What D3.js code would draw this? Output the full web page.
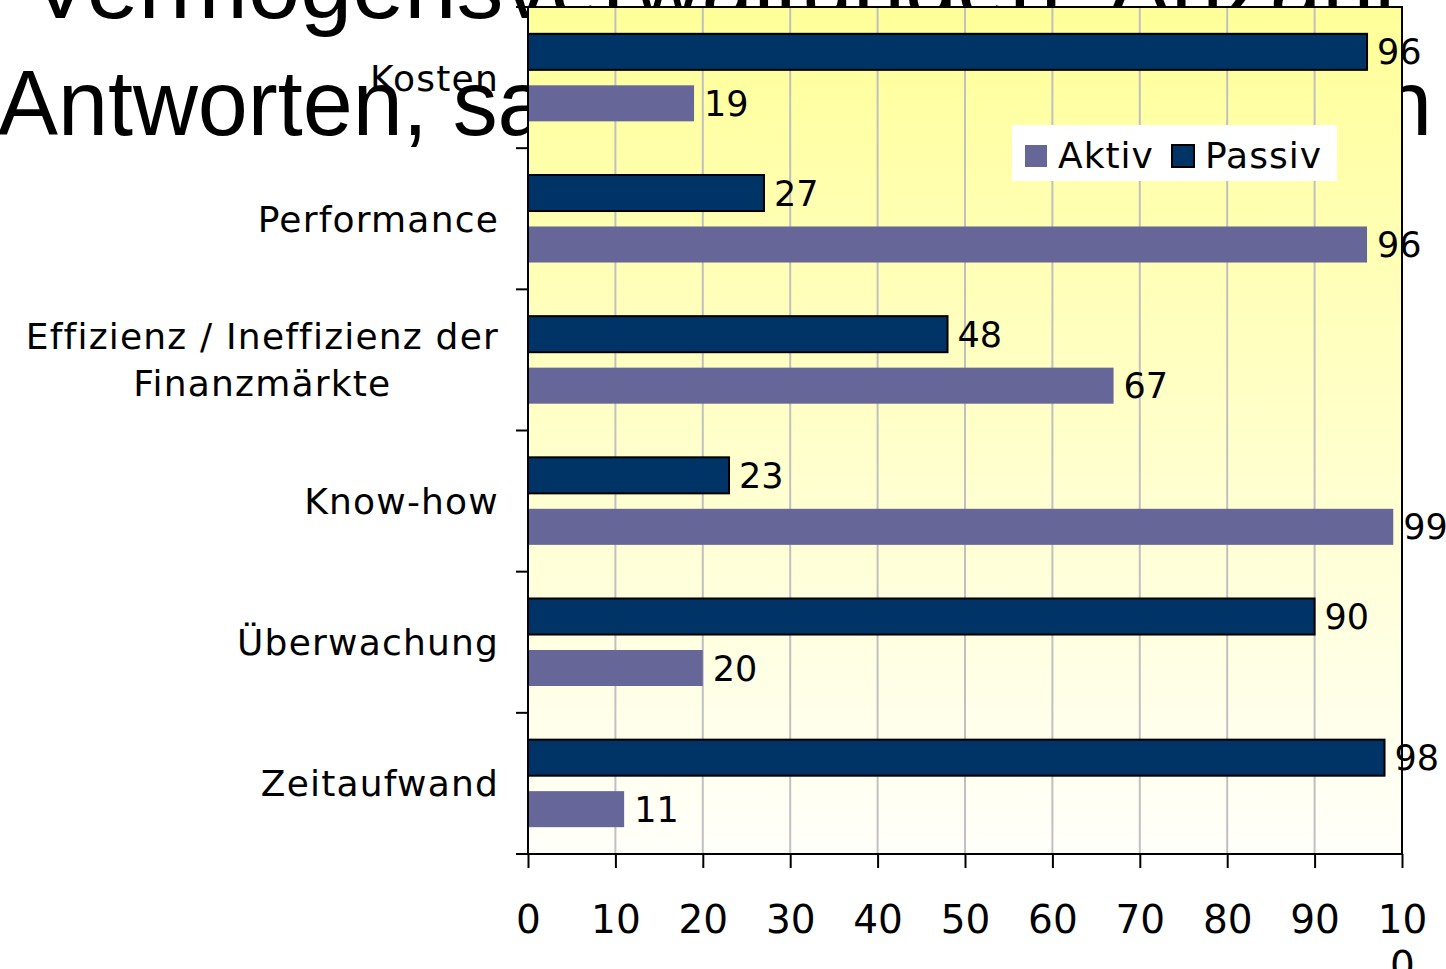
<!DOCTYPE html>
<html>
<head>
<meta charset="utf-8">
<script src="https://cdn.jsdelivr.net/npm/d3@7"></script>
<style>
  body { margin: 0; background: #fff; overflow: hidden; }
  svg { display: block; }
</style>
</head>
<body>
<div id="chart"></div>
<script>
// Data
var categories = ["Kosten", "Performance", "Effizienz / Ineffizienz der|Finanzmärkte", "Know-how", "Überwachung", "Zeitaufwand"];
var passivValues = [96, 27, 48, 23, 90, 98];
var aktivValues = [19, 96, 67, 99, 20, 11];
var seriesNames = ["Passiv", "Aktiv"];
var legendNames = ["Aktiv", "Passiv"];
var xTicks = [0, 10, 20, 30, 40, 50, 60, 70, 80, 90, 100];
var titleLines = ["Vermögensverwaltungen: Anzahl", "Antworten, sachliche Argumentation"];

// SVG parms
var svgWidth = 1446;
var svgHeight = 969;

// plot area
var margin = { top: 7, right: 44, bottom: 115, left: 528 };
var width = svgWidth - margin.left - margin.right;
var height = svgHeight - margin.top - margin.bottom;

var colors = { Passiv: "#003366", Aktiv: "#666699" };

var svg = d3.select("#chart")
  .append("svg")
  .attr("width", svgWidth)
  .attr("height", svgHeight);

// background gradient of the plot
var grad = svg.append("defs").append("linearGradient")
  .attr("id", "bg")
  .attr("x1", 0).attr("y1", 0).attr("x2", 0).attr("y2", 1);
grad.append("stop").attr("offset", "0%").attr("stop-color", "#FFFF99");
grad.append("stop").attr("offset", "100%").attr("stop-color", "#FFFFFA");

// Title (drawn first, the plot sits on top of it)
var titleGroup = svg.append("g")
  .attr("font-family", "'Liberation Sans', Arial, sans-serif")
  .attr("font-size", 93)
  .attr("fill", "#000");
titleGroup.append("text")
  .attr("x", 29).attr("y", 18)
  .attr("textLength", 1366)
  .attr("lengthAdjust", "spacingAndGlyphs")
  .text(titleLines[0]);
titleGroup.append("text")
  .attr("x", -2).attr("y", 135)
  .attr("textLength", 1434)
  .attr("lengthAdjust", "spacingAndGlyphs")
  .text(titleLines[1]);

var chartGroup = svg.append("g")
  .attr("transform", `translate(${margin.left}, ${margin.top})`);

// scales
var xScale = d3.scaleLinear()
  .domain([0, 100])
  .range([0, width]);

var yScale = d3.scaleBand()
  .domain(categories)
  .range([0, height]);

var innerScale = d3.scaleBand()
  .domain(seriesNames)
  .range([yScale.bandwidth() * 0.19, yScale.bandwidth() * 0.81])
  .paddingInner(0.3);

// plot background
chartGroup.append("rect")
  .attr("width", width)
  .attr("height", height)
  .attr("fill", "url(#bg)");

// grid lines
chartGroup.append("g")
  .selectAll("line")
  .data(xTicks.slice(1, -1))
  .enter()
  .append("line")
  .attr("x1", d => xScale(d)).attr("x2", d => xScale(d))
  .attr("y1", 0).attr("y2", height)
  .attr("stroke", "#C0C0C0")
  .attr("stroke-width", 2);

// frame top and right
chartGroup.append("path")
  .attr("d", `M0,0H${width}V${height}`)
  .attr("fill", "none")
  .attr("stroke", "#000")
  .attr("stroke-width", 2);

// table for bars
var rows = categories.map(function(c, i) {
  return { cat: c, Passiv: passivValues[i], Aktiv: aktivValues[i] };
});
var barData = [];
rows.forEach(function(r) {
  seriesNames.forEach(function(s) {
    barData.push({ cat: r.cat, series: s, value: r[s] });
  });
});

// bars
chartGroup.append("g")
  .selectAll("rect")
  .data(barData)
  .enter()
  .append("rect")
  .attr("x", xScale(0))
  .attr("y", d => yScale(d.cat) + innerScale(d.series))
  .attr("width", d => xScale(d.value) - xScale(0))
  .attr("height", innerScale.bandwidth())
  .attr("fill", d => colors[d.series])
  .attr("stroke", d => d.series === "Passiv" ? "#000" : "none")
  .attr("stroke-width", 2);

// value labels
chartGroup.append("g")
  .selectAll("text")
  .data(barData)
  .enter()
  .append("text")
  .attr("x", d => xScale(d.value) + 10)
  .attr("y", d => yScale(d.cat) + innerScale(d.series) + innerScale.bandwidth() / 2)
  .attr("dy", "0.36em")
  .attr("font-family", "'DejaVu Sans', Verdana, sans-serif")
  .attr("font-size", 35)
  .attr("fill", "#000")
  .text(d => d.value);

// axes
var xAxis = d3.axisBottom(xScale)
  .tickValues(xTicks)
  .tickSize(14)
  .tickFormat("");
var gx = chartGroup.append("g")
  .attr("transform", `translate(0, ${height})`)
  .call(xAxis);
gx.select(".domain").attr("stroke-width", 2).attr("d", `M-12,0H${width}`);
gx.selectAll(".tick line").attr("stroke-width", 2);

// x tick labels (the 100 wraps in the original)
var tickLabels = gx.selectAll(".tick")
  .append("text")
  .attr("fill", "#000")
  .attr("font-family", "'DejaVu Sans', Verdana, sans-serif")
  .attr("font-size", 39)
  .attr("text-anchor", "middle")
  .attr("y", 79);
tickLabels.each(function(d) {
  var t = d3.select(this);
  var s = String(d);
  if (s.length > 2) {
    t.append("tspan").attr("x", 0).text(s.slice(0, 2));
    t.append("tspan").attr("x", 0).attr("dy", 46).text(s.slice(2));
  } else {
    t.text(s);
  }
});

var yAxis = d3.axisLeft(yScale).tickSize(0).tickFormat("");
var gy = chartGroup.append("g").call(yAxis);
gy.select(".domain").attr("stroke-width", 2).attr("d", `M0,0V${height}`);

// category boundary ticks
chartGroup.append("g")
  .selectAll("line")
  .data(categories)
  .enter()
  .append("line")
  .attr("x1", -12).attr("x2", 0)
  .attr("y1", d => yScale(d)).attr("y2", d => yScale(d))
  .attr("stroke", "#000")
  .attr("stroke-width", 2);

// category labels
var catLabels = chartGroup.append("g")
  .attr("font-family", "'DejaVu Sans', Verdana, sans-serif")
  .attr("font-size", 36)
  .attr("letter-spacing", 1.2)
  .attr("fill", "#000");
categories.forEach(function(c) {
  var lines = c.split("|");
  var cy = yScale(c) + yScale.bandwidth() / 2;
  var lineH = 47;
  var g = catLabels.append("g");
  var texts = lines.map(function(l, i) {
    return g.append("text")
      .attr("y", cy + (i - (lines.length - 1) / 2) * lineH)
      .attr("dy", "0.36em")
      .attr("text-anchor", "middle")
      .text(l);
  });
  var maxW = d3.max(texts, t => t.node().getComputedTextLength());
  texts.forEach(t => t.attr("x", -29 - maxW / 2));
});

// legend
var legend = chartGroup.append("g")
  .attr("transform", `translate(${1012 - margin.left}, ${125 - margin.top})`);
legend.append("rect")
  .attr("width", 325)
  .attr("height", 56)
  .attr("fill", "#fff");
var legendX = [13, 160];
legendNames.forEach(function(n, i) {
  legend.append("rect")
    .attr("x", legendX[i])
    .attr("y", 20)
    .attr("width", 22)
    .attr("height", 22)
    .attr("fill", colors[n])
    .attr("stroke", n === "Passiv" ? "#000" : "none")
    .attr("stroke-width", 2);
  legend.append("text")
    .attr("x", legendX[i] + 33)
    .attr("y", 30)
    .attr("dy", "0.36em")
    .attr("font-family", "'DejaVu Sans', Verdana, sans-serif")
    .attr("font-size", 36)
    .attr("letter-spacing", 1)
    .attr("fill", "#000")
    .text(n);
});
</script>
</body>
</html>
